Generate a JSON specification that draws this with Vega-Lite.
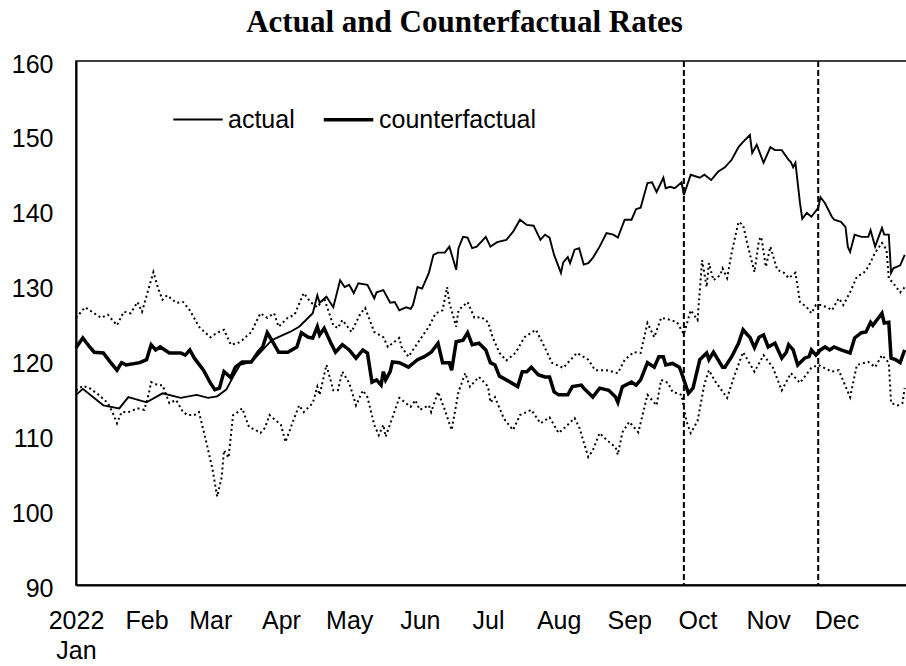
{
  "$schema": "https://vega.github.io/schema/vega-lite/v6.json",
  "width": 831,
  "height": 524,
  "autosize": {"type": "none"},
  "padding": {"left": 76, "top": 61, "right": 0, "bottom": 81},
  "background": "white",
  "title": {
    "text": "Actual and Counterfactual Rates",
    "font": "Liberation Serif",
    "fontSize": 31,
    "fontWeight": "bold",
    "color": "black",
    "anchor": "middle",
    "dx": -27,
    "offset": 13
  },
  "config": {
    "view": {"stroke": "black", "strokeWidth": 1.5},
    "axis": {
      "title": null,
      "grid": false,
      "ticks": false,
      "domainColor": "black",
      "domainWidth": 2,
      "labelFont": "Liberation Sans",
      "labelFontSize": 25,
      "labelColor": "black"
    }
  },
  "datasets": {
    "main": [
      {"series": "actual", "date": "2022-01-01", "value": 115.4},
      {"series": "actual", "date": "2022-01-04", "value": 116.2},
      {"series": "actual", "date": "2022-01-13", "value": 114.0},
      {"series": "actual", "date": "2022-01-20", "value": 113.6},
      {"series": "actual", "date": "2022-01-24", "value": 115.1},
      {"series": "actual", "date": "2022-02-01", "value": 114.4},
      {"series": "actual", "date": "2022-02-08", "value": 115.6},
      {"series": "actual", "date": "2022-02-16", "value": 115.0},
      {"series": "actual", "date": "2022-02-23", "value": 115.4},
      {"series": "actual", "date": "2022-02-28", "value": 115.0},
      {"series": "actual", "date": "2022-03-04", "value": 115.2},
      {"series": "actual", "date": "2022-03-08", "value": 116.1},
      {"series": "actual", "date": "2022-03-11", "value": 117.8},
      {"series": "actual", "date": "2022-03-14", "value": 119.4},
      {"series": "actual", "date": "2022-03-19", "value": 119.8},
      {"series": "actual", "date": "2022-03-24", "value": 121.4},
      {"series": "actual", "date": "2022-03-28", "value": 122.7},
      {"series": "actual", "date": "2022-04-02", "value": 123.4},
      {"series": "actual", "date": "2022-04-05", "value": 123.8},
      {"series": "actual", "date": "2022-04-09", "value": 124.5},
      {"series": "actual", "date": "2022-04-12", "value": 125.4},
      {"series": "actual", "date": "2022-04-15", "value": 126.3},
      {"series": "actual", "date": "2022-04-17", "value": 128.7},
      {"series": "actual", "date": "2022-04-18", "value": 127.7},
      {"series": "actual", "date": "2022-04-21", "value": 128.5},
      {"series": "actual", "date": "2022-04-24", "value": 127.1},
      {"series": "actual", "date": "2022-04-27", "value": 130.7},
      {"series": "actual", "date": "2022-04-29", "value": 129.8},
      {"series": "actual", "date": "2022-05-01", "value": 130.1},
      {"series": "actual", "date": "2022-05-03", "value": 129.0},
      {"series": "actual", "date": "2022-05-05", "value": 130.3},
      {"series": "actual", "date": "2022-05-09", "value": 130.1},
      {"series": "actual", "date": "2022-05-12", "value": 128.3},
      {"series": "actual", "date": "2022-05-13", "value": 129.1},
      {"series": "actual", "date": "2022-05-16", "value": 129.4},
      {"series": "actual", "date": "2022-05-19", "value": 127.7},
      {"series": "actual", "date": "2022-05-21", "value": 127.8},
      {"series": "actual", "date": "2022-05-23", "value": 126.7},
      {"series": "actual", "date": "2022-05-26", "value": 127.1},
      {"series": "actual", "date": "2022-05-28", "value": 126.9},
      {"series": "actual", "date": "2022-05-29", "value": 127.4},
      {"series": "actual", "date": "2022-05-31", "value": 129.8},
      {"series": "actual", "date": "2022-06-02", "value": 129.6},
      {"series": "actual", "date": "2022-06-05", "value": 131.7},
      {"series": "actual", "date": "2022-06-07", "value": 134.1},
      {"series": "actual", "date": "2022-06-09", "value": 134.4},
      {"series": "actual", "date": "2022-06-12", "value": 134.4},
      {"series": "actual", "date": "2022-06-14", "value": 135.2},
      {"series": "actual", "date": "2022-06-17", "value": 132.1},
      {"series": "actual", "date": "2022-06-18", "value": 135.0},
      {"series": "actual", "date": "2022-06-20", "value": 136.5},
      {"series": "actual", "date": "2022-06-22", "value": 136.4},
      {"series": "actual", "date": "2022-06-24", "value": 135.0},
      {"series": "actual", "date": "2022-06-26", "value": 135.2},
      {"series": "actual", "date": "2022-06-30", "value": 136.5},
      {"series": "actual", "date": "2022-07-02", "value": 135.2},
      {"series": "actual", "date": "2022-07-05", "value": 135.8},
      {"series": "actual", "date": "2022-07-09", "value": 136.1},
      {"series": "actual", "date": "2022-07-12", "value": 137.2},
      {"series": "actual", "date": "2022-07-15", "value": 138.8},
      {"series": "actual", "date": "2022-07-18", "value": 138.1},
      {"series": "actual", "date": "2022-07-21", "value": 138.0},
      {"series": "actual", "date": "2022-07-24", "value": 136.1},
      {"series": "actual", "date": "2022-07-26", "value": 136.8},
      {"series": "actual", "date": "2022-07-28", "value": 136.4},
      {"series": "actual", "date": "2022-07-30", "value": 134.1},
      {"series": "actual", "date": "2022-08-02", "value": 131.7},
      {"series": "actual", "date": "2022-08-03", "value": 133.1},
      {"series": "actual", "date": "2022-08-05", "value": 133.8},
      {"series": "actual", "date": "2022-08-06", "value": 133.0},
      {"series": "actual", "date": "2022-08-08", "value": 134.8},
      {"series": "actual", "date": "2022-08-10", "value": 135.0},
      {"series": "actual", "date": "2022-08-12", "value": 132.8},
      {"series": "actual", "date": "2022-08-14", "value": 133.0},
      {"series": "actual", "date": "2022-08-16", "value": 133.7},
      {"series": "actual", "date": "2022-08-19", "value": 135.2},
      {"series": "actual", "date": "2022-08-22", "value": 137.0},
      {"series": "actual", "date": "2022-08-25", "value": 136.8},
      {"series": "actual", "date": "2022-08-27", "value": 136.4},
      {"series": "actual", "date": "2022-08-30", "value": 138.8},
      {"series": "actual", "date": "2022-09-02", "value": 138.8},
      {"series": "actual", "date": "2022-09-04", "value": 140.2},
      {"series": "actual", "date": "2022-09-06", "value": 140.4},
      {"series": "actual", "date": "2022-09-09", "value": 143.7},
      {"series": "actual", "date": "2022-09-11", "value": 143.8},
      {"series": "actual", "date": "2022-09-13", "value": 142.5},
      {"series": "actual", "date": "2022-09-16", "value": 144.4},
      {"series": "actual", "date": "2022-09-17", "value": 143.0},
      {"series": "actual", "date": "2022-09-19", "value": 143.2},
      {"series": "actual", "date": "2022-09-21", "value": 143.0},
      {"series": "actual", "date": "2022-09-24", "value": 143.8},
      {"series": "actual", "date": "2022-09-25", "value": 142.1},
      {"series": "actual", "date": "2022-09-28", "value": 144.8},
      {"series": "actual", "date": "2022-10-02", "value": 144.4},
      {"series": "actual", "date": "2022-10-04", "value": 144.8},
      {"series": "actual", "date": "2022-10-07", "value": 144.1},
      {"series": "actual", "date": "2022-10-10", "value": 145.2},
      {"series": "actual", "date": "2022-10-13", "value": 145.8},
      {"series": "actual", "date": "2022-10-16", "value": 146.8},
      {"series": "actual", "date": "2022-10-19", "value": 148.5},
      {"series": "actual", "date": "2022-10-21", "value": 149.2},
      {"series": "actual", "date": "2022-10-24", "value": 150.1},
      {"series": "actual", "date": "2022-10-25", "value": 147.7},
      {"series": "actual", "date": "2022-10-27", "value": 148.8},
      {"series": "actual", "date": "2022-10-30", "value": 146.4},
      {"series": "actual", "date": "2022-11-02", "value": 148.5},
      {"series": "actual", "date": "2022-11-04", "value": 148.1},
      {"series": "actual", "date": "2022-11-07", "value": 148.1},
      {"series": "actual", "date": "2022-11-10", "value": 146.8},
      {"series": "actual", "date": "2022-11-11", "value": 146.5},
      {"series": "actual", "date": "2022-11-12", "value": 145.8},
      {"series": "actual", "date": "2022-11-13", "value": 146.4},
      {"series": "actual", "date": "2022-11-15", "value": 141.0},
      {"series": "actual", "date": "2022-11-16", "value": 138.9},
      {"series": "actual", "date": "2022-11-18", "value": 139.7},
      {"series": "actual", "date": "2022-11-20", "value": 139.2},
      {"series": "actual", "date": "2022-11-23", "value": 140.4},
      {"series": "actual", "date": "2022-11-24", "value": 141.8},
      {"series": "actual", "date": "2022-11-26", "value": 141.0},
      {"series": "actual", "date": "2022-11-29", "value": 139.2},
      {"series": "actual", "date": "2022-11-30", "value": 138.8},
      {"series": "actual", "date": "2022-12-03", "value": 138.5},
      {"series": "actual", "date": "2022-12-05", "value": 137.8},
      {"series": "actual", "date": "2022-12-06", "value": 135.2},
      {"series": "actual", "date": "2022-12-07", "value": 134.5},
      {"series": "actual", "date": "2022-12-09", "value": 136.8},
      {"series": "actual", "date": "2022-12-12", "value": 136.5},
      {"series": "actual", "date": "2022-12-15", "value": 136.5},
      {"series": "actual", "date": "2022-12-16", "value": 137.4},
      {"series": "actual", "date": "2022-12-18", "value": 135.2},
      {"series": "actual", "date": "2022-12-21", "value": 137.7},
      {"series": "actual", "date": "2022-12-22", "value": 136.8},
      {"series": "actual", "date": "2022-12-24", "value": 136.8},
      {"series": "actual", "date": "2022-12-25", "value": 131.7},
      {"series": "actual", "date": "2022-12-26", "value": 132.3},
      {"series": "actual", "date": "2022-12-29", "value": 132.7},
      {"series": "actual", "date": "2022-12-31", "value": 134.1},
      {"series": "counterfactual", "date": "2022-01-01", "value": 121.7},
      {"series": "counterfactual", "date": "2022-01-04", "value": 123.0},
      {"series": "counterfactual", "date": "2022-01-07", "value": 121.8},
      {"series": "counterfactual", "date": "2022-01-09", "value": 121.1},
      {"series": "counterfactual", "date": "2022-01-13", "value": 121.0},
      {"series": "counterfactual", "date": "2022-01-16", "value": 119.8},
      {"series": "counterfactual", "date": "2022-01-19", "value": 118.7},
      {"series": "counterfactual", "date": "2022-01-21", "value": 119.7},
      {"series": "counterfactual", "date": "2022-01-23", "value": 119.4},
      {"series": "counterfactual", "date": "2022-01-29", "value": 119.7},
      {"series": "counterfactual", "date": "2022-02-01", "value": 120.1},
      {"series": "counterfactual", "date": "2022-02-03", "value": 122.1},
      {"series": "counterfactual", "date": "2022-02-05", "value": 121.4},
      {"series": "counterfactual", "date": "2022-02-07", "value": 121.8},
      {"series": "counterfactual", "date": "2022-02-11", "value": 121.0},
      {"series": "counterfactual", "date": "2022-02-16", "value": 121.0},
      {"series": "counterfactual", "date": "2022-02-18", "value": 120.7},
      {"series": "counterfactual", "date": "2022-02-20", "value": 121.4},
      {"series": "counterfactual", "date": "2022-02-22", "value": 120.3},
      {"series": "counterfactual", "date": "2022-02-26", "value": 118.7},
      {"series": "counterfactual", "date": "2022-03-01", "value": 117.0},
      {"series": "counterfactual", "date": "2022-03-03", "value": 116.1},
      {"series": "counterfactual", "date": "2022-03-05", "value": 116.3},
      {"series": "counterfactual", "date": "2022-03-07", "value": 118.5},
      {"series": "counterfactual", "date": "2022-03-10", "value": 117.7},
      {"series": "counterfactual", "date": "2022-03-12", "value": 119.1},
      {"series": "counterfactual", "date": "2022-03-15", "value": 119.8},
      {"series": "counterfactual", "date": "2022-03-19", "value": 119.8},
      {"series": "counterfactual", "date": "2022-03-22", "value": 121.1},
      {"series": "counterfactual", "date": "2022-03-24", "value": 121.8},
      {"series": "counterfactual", "date": "2022-03-26", "value": 123.7},
      {"series": "counterfactual", "date": "2022-03-28", "value": 122.7},
      {"series": "counterfactual", "date": "2022-03-31", "value": 121.1},
      {"series": "counterfactual", "date": "2022-04-04", "value": 121.1},
      {"series": "counterfactual", "date": "2022-04-08", "value": 121.8},
      {"series": "counterfactual", "date": "2022-04-10", "value": 123.7},
      {"series": "counterfactual", "date": "2022-04-13", "value": 123.1},
      {"series": "counterfactual", "date": "2022-04-15", "value": 123.0},
      {"series": "counterfactual", "date": "2022-04-17", "value": 124.5},
      {"series": "counterfactual", "date": "2022-04-18", "value": 123.4},
      {"series": "counterfactual", "date": "2022-04-20", "value": 124.3},
      {"series": "counterfactual", "date": "2022-04-23", "value": 122.3},
      {"series": "counterfactual", "date": "2022-04-25", "value": 121.1},
      {"series": "counterfactual", "date": "2022-04-28", "value": 122.1},
      {"series": "counterfactual", "date": "2022-05-01", "value": 121.4},
      {"series": "counterfactual", "date": "2022-05-04", "value": 120.3},
      {"series": "counterfactual", "date": "2022-05-07", "value": 121.4},
      {"series": "counterfactual", "date": "2022-05-09", "value": 121.0},
      {"series": "counterfactual", "date": "2022-05-11", "value": 117.1},
      {"series": "counterfactual", "date": "2022-05-13", "value": 117.4},
      {"series": "counterfactual", "date": "2022-05-15", "value": 116.7},
      {"series": "counterfactual", "date": "2022-05-16", "value": 118.5},
      {"series": "counterfactual", "date": "2022-05-17", "value": 117.4},
      {"series": "counterfactual", "date": "2022-05-19", "value": 118.5},
      {"series": "counterfactual", "date": "2022-05-20", "value": 119.8},
      {"series": "counterfactual", "date": "2022-05-23", "value": 119.7},
      {"series": "counterfactual", "date": "2022-05-27", "value": 119.1},
      {"series": "counterfactual", "date": "2022-05-31", "value": 120.1},
      {"series": "counterfactual", "date": "2022-06-03", "value": 120.5},
      {"series": "counterfactual", "date": "2022-06-06", "value": 121.1},
      {"series": "counterfactual", "date": "2022-06-09", "value": 122.3},
      {"series": "counterfactual", "date": "2022-06-11", "value": 119.7},
      {"series": "counterfactual", "date": "2022-06-14", "value": 119.7},
      {"series": "counterfactual", "date": "2022-06-15", "value": 118.7},
      {"series": "counterfactual", "date": "2022-06-17", "value": 122.5},
      {"series": "counterfactual", "date": "2022-06-20", "value": 122.7},
      {"series": "counterfactual", "date": "2022-06-22", "value": 123.7},
      {"series": "counterfactual", "date": "2022-06-24", "value": 122.1},
      {"series": "counterfactual", "date": "2022-06-27", "value": 122.3},
      {"series": "counterfactual", "date": "2022-06-30", "value": 121.4},
      {"series": "counterfactual", "date": "2022-07-02", "value": 119.7},
      {"series": "counterfactual", "date": "2022-07-04", "value": 119.4},
      {"series": "counterfactual", "date": "2022-07-06", "value": 117.9},
      {"series": "counterfactual", "date": "2022-07-09", "value": 117.4},
      {"series": "counterfactual", "date": "2022-07-14", "value": 116.5},
      {"series": "counterfactual", "date": "2022-07-16", "value": 118.5},
      {"series": "counterfactual", "date": "2022-07-18", "value": 118.5},
      {"series": "counterfactual", "date": "2022-07-20", "value": 119.1},
      {"series": "counterfactual", "date": "2022-07-23", "value": 118.1},
      {"series": "counterfactual", "date": "2022-07-26", "value": 117.8},
      {"series": "counterfactual", "date": "2022-07-28", "value": 117.8},
      {"series": "counterfactual", "date": "2022-07-30", "value": 115.8},
      {"series": "counterfactual", "date": "2022-08-01", "value": 115.4},
      {"series": "counterfactual", "date": "2022-08-05", "value": 115.4},
      {"series": "counterfactual", "date": "2022-08-07", "value": 116.5},
      {"series": "counterfactual", "date": "2022-08-11", "value": 116.7},
      {"series": "counterfactual", "date": "2022-08-12", "value": 116.3},
      {"series": "counterfactual", "date": "2022-08-16", "value": 115.1},
      {"series": "counterfactual", "date": "2022-08-19", "value": 116.3},
      {"series": "counterfactual", "date": "2022-08-23", "value": 116.0},
      {"series": "counterfactual", "date": "2022-08-26", "value": 115.1},
      {"series": "counterfactual", "date": "2022-08-27", "value": 114.4},
      {"series": "counterfactual", "date": "2022-08-29", "value": 116.5},
      {"series": "counterfactual", "date": "2022-09-02", "value": 117.1},
      {"series": "counterfactual", "date": "2022-09-04", "value": 116.7},
      {"series": "counterfactual", "date": "2022-09-06", "value": 117.4},
      {"series": "counterfactual", "date": "2022-09-09", "value": 119.7},
      {"series": "counterfactual", "date": "2022-09-12", "value": 119.1},
      {"series": "counterfactual", "date": "2022-09-14", "value": 120.5},
      {"series": "counterfactual", "date": "2022-09-16", "value": 120.5},
      {"series": "counterfactual", "date": "2022-09-17", "value": 119.4},
      {"series": "counterfactual", "date": "2022-09-20", "value": 119.6},
      {"series": "counterfactual", "date": "2022-09-23", "value": 119.1},
      {"series": "counterfactual", "date": "2022-09-24", "value": 118.3},
      {"series": "counterfactual", "date": "2022-09-27", "value": 115.6},
      {"series": "counterfactual", "date": "2022-09-29", "value": 116.3},
      {"series": "counterfactual", "date": "2022-10-02", "value": 120.1},
      {"series": "counterfactual", "date": "2022-10-05", "value": 121.0},
      {"series": "counterfactual", "date": "2022-10-06", "value": 120.1},
      {"series": "counterfactual", "date": "2022-10-08", "value": 121.1},
      {"series": "counterfactual", "date": "2022-10-12", "value": 119.1},
      {"series": "counterfactual", "date": "2022-10-13", "value": 119.1},
      {"series": "counterfactual", "date": "2022-10-16", "value": 120.5},
      {"series": "counterfactual", "date": "2022-10-19", "value": 122.3},
      {"series": "counterfactual", "date": "2022-10-21", "value": 124.1},
      {"series": "counterfactual", "date": "2022-10-23", "value": 123.4},
      {"series": "counterfactual", "date": "2022-10-24", "value": 123.1},
      {"series": "counterfactual", "date": "2022-10-26", "value": 121.7},
      {"series": "counterfactual", "date": "2022-10-28", "value": 123.1},
      {"series": "counterfactual", "date": "2022-10-30", "value": 123.4},
      {"series": "counterfactual", "date": "2022-11-01", "value": 121.8},
      {"series": "counterfactual", "date": "2022-11-04", "value": 122.3},
      {"series": "counterfactual", "date": "2022-11-07", "value": 120.3},
      {"series": "counterfactual", "date": "2022-11-09", "value": 121.1},
      {"series": "counterfactual", "date": "2022-11-10", "value": 122.1},
      {"series": "counterfactual", "date": "2022-11-12", "value": 121.4},
      {"series": "counterfactual", "date": "2022-11-14", "value": 119.4},
      {"series": "counterfactual", "date": "2022-11-17", "value": 120.3},
      {"series": "counterfactual", "date": "2022-11-19", "value": 120.5},
      {"series": "counterfactual", "date": "2022-11-20", "value": 121.4},
      {"series": "counterfactual", "date": "2022-11-22", "value": 120.7},
      {"series": "counterfactual", "date": "2022-11-24", "value": 121.4},
      {"series": "counterfactual", "date": "2022-11-26", "value": 121.8},
      {"series": "counterfactual", "date": "2022-11-28", "value": 121.4},
      {"series": "counterfactual", "date": "2022-11-30", "value": 121.8},
      {"series": "counterfactual", "date": "2022-12-03", "value": 121.4},
      {"series": "counterfactual", "date": "2022-12-07", "value": 121.0},
      {"series": "counterfactual", "date": "2022-12-09", "value": 123.0},
      {"series": "counterfactual", "date": "2022-12-12", "value": 123.7},
      {"series": "counterfactual", "date": "2022-12-14", "value": 123.8},
      {"series": "counterfactual", "date": "2022-12-16", "value": 125.1},
      {"series": "counterfactual", "date": "2022-12-17", "value": 124.7},
      {"series": "counterfactual", "date": "2022-12-21", "value": 126.3},
      {"series": "counterfactual", "date": "2022-12-22", "value": 125.0},
      {"series": "counterfactual", "date": "2022-12-24", "value": 125.1},
      {"series": "counterfactual", "date": "2022-12-25", "value": 120.3},
      {"series": "counterfactual", "date": "2022-12-27", "value": 120.1},
      {"series": "counterfactual", "date": "2022-12-29", "value": 119.7},
      {"series": "counterfactual", "date": "2022-12-31", "value": 121.4}
    ],
    "bands": [
      {"series": "upper", "date": "2022-01-01", "value": 125.7},
      {"series": "upper", "date": "2022-01-05", "value": 127.1},
      {"series": "upper", "date": "2022-01-08", "value": 126.5},
      {"series": "upper", "date": "2022-01-12", "value": 125.7},
      {"series": "upper", "date": "2022-01-15", "value": 126.1},
      {"series": "upper", "date": "2022-01-19", "value": 124.7},
      {"series": "upper", "date": "2022-01-22", "value": 126.5},
      {"series": "upper", "date": "2022-01-25", "value": 126.3},
      {"series": "upper", "date": "2022-01-28", "value": 127.8},
      {"series": "upper", "date": "2022-01-30", "value": 126.5},
      {"series": "upper", "date": "2022-02-02", "value": 129.7},
      {"series": "upper", "date": "2022-02-04", "value": 131.8},
      {"series": "upper", "date": "2022-02-06", "value": 129.7},
      {"series": "upper", "date": "2022-02-08", "value": 128.1},
      {"series": "upper", "date": "2022-02-10", "value": 128.7},
      {"series": "upper", "date": "2022-02-14", "value": 127.7},
      {"series": "upper", "date": "2022-02-17", "value": 127.8},
      {"series": "upper", "date": "2022-02-20", "value": 126.7},
      {"series": "upper", "date": "2022-02-24", "value": 124.5},
      {"series": "upper", "date": "2022-03-01", "value": 123.1},
      {"series": "upper", "date": "2022-03-04", "value": 123.7},
      {"series": "upper", "date": "2022-03-07", "value": 124.1},
      {"series": "upper", "date": "2022-03-10", "value": 122.1},
      {"series": "upper", "date": "2022-03-13", "value": 122.3},
      {"series": "upper", "date": "2022-03-15", "value": 122.7},
      {"series": "upper", "date": "2022-03-19", "value": 123.8},
      {"series": "upper", "date": "2022-03-23", "value": 126.3},
      {"series": "upper", "date": "2022-03-26", "value": 125.7},
      {"series": "upper", "date": "2022-03-29", "value": 126.3},
      {"series": "upper", "date": "2022-03-31", "value": 124.5},
      {"series": "upper", "date": "2022-04-04", "value": 125.7},
      {"series": "upper", "date": "2022-04-07", "value": 126.1},
      {"series": "upper", "date": "2022-04-11", "value": 129.0},
      {"series": "upper", "date": "2022-04-14", "value": 127.8},
      {"series": "upper", "date": "2022-04-17", "value": 127.1},
      {"series": "upper", "date": "2022-04-20", "value": 128.3},
      {"series": "upper", "date": "2022-04-24", "value": 124.7},
      {"series": "upper", "date": "2022-04-26", "value": 124.3},
      {"series": "upper", "date": "2022-04-28", "value": 125.4},
      {"series": "upper", "date": "2022-05-02", "value": 123.8},
      {"series": "upper", "date": "2022-05-06", "value": 126.3},
      {"series": "upper", "date": "2022-05-08", "value": 127.0},
      {"series": "upper", "date": "2022-05-12", "value": 123.8},
      {"series": "upper", "date": "2022-05-16", "value": 123.1},
      {"series": "upper", "date": "2022-05-18", "value": 121.8},
      {"series": "upper", "date": "2022-05-23", "value": 123.0},
      {"series": "upper", "date": "2022-05-24", "value": 121.8},
      {"series": "upper", "date": "2022-05-27", "value": 120.5},
      {"series": "upper", "date": "2022-05-31", "value": 122.3},
      {"series": "upper", "date": "2022-06-05", "value": 124.5},
      {"series": "upper", "date": "2022-06-08", "value": 126.3},
      {"series": "upper", "date": "2022-06-11", "value": 126.7},
      {"series": "upper", "date": "2022-06-13", "value": 129.8},
      {"series": "upper", "date": "2022-06-14", "value": 127.7},
      {"series": "upper", "date": "2022-06-17", "value": 124.5},
      {"series": "upper", "date": "2022-06-18", "value": 126.7},
      {"series": "upper", "date": "2022-06-22", "value": 127.8},
      {"series": "upper", "date": "2022-06-25", "value": 125.7},
      {"series": "upper", "date": "2022-06-28", "value": 125.8},
      {"series": "upper", "date": "2022-07-01", "value": 125.1},
      {"series": "upper", "date": "2022-07-03", "value": 123.1},
      {"series": "upper", "date": "2022-07-06", "value": 121.0},
      {"series": "upper", "date": "2022-07-09", "value": 120.0},
      {"series": "upper", "date": "2022-07-13", "value": 121.0},
      {"series": "upper", "date": "2022-07-17", "value": 123.1},
      {"series": "upper", "date": "2022-07-22", "value": 124.1},
      {"series": "upper", "date": "2022-07-25", "value": 122.3},
      {"series": "upper", "date": "2022-07-29", "value": 119.7},
      {"series": "upper", "date": "2022-08-03", "value": 119.0},
      {"series": "upper", "date": "2022-08-09", "value": 121.0},
      {"series": "upper", "date": "2022-08-14", "value": 120.1},
      {"series": "upper", "date": "2022-08-17", "value": 118.7},
      {"series": "upper", "date": "2022-08-22", "value": 118.7},
      {"series": "upper", "date": "2022-08-27", "value": 118.3},
      {"series": "upper", "date": "2022-08-30", "value": 120.1},
      {"series": "upper", "date": "2022-09-03", "value": 121.1},
      {"series": "upper", "date": "2022-09-06", "value": 121.0},
      {"series": "upper", "date": "2022-09-09", "value": 125.0},
      {"series": "upper", "date": "2022-09-12", "value": 123.1},
      {"series": "upper", "date": "2022-09-15", "value": 125.7},
      {"series": "upper", "date": "2022-09-18", "value": 125.5},
      {"series": "upper", "date": "2022-09-22", "value": 125.1},
      {"series": "upper", "date": "2022-09-25", "value": 123.5},
      {"series": "upper", "date": "2022-09-28", "value": 126.7},
      {"series": "upper", "date": "2022-10-01", "value": 125.4},
      {"series": "upper", "date": "2022-10-03", "value": 133.4},
      {"series": "upper", "date": "2022-10-05", "value": 129.8},
      {"series": "upper", "date": "2022-10-06", "value": 133.0},
      {"series": "upper", "date": "2022-10-08", "value": 130.7},
      {"series": "upper", "date": "2022-10-11", "value": 131.4},
      {"series": "upper", "date": "2022-10-12", "value": 132.3},
      {"series": "upper", "date": "2022-10-14", "value": 131.0},
      {"series": "upper", "date": "2022-10-16", "value": 134.4},
      {"series": "upper", "date": "2022-10-19", "value": 138.5},
      {"series": "upper", "date": "2022-10-21", "value": 138.1},
      {"series": "upper", "date": "2022-10-23", "value": 135.4},
      {"series": "upper", "date": "2022-10-26", "value": 131.8},
      {"series": "upper", "date": "2022-10-28", "value": 136.1},
      {"series": "upper", "date": "2022-10-29", "value": 136.5},
      {"series": "upper", "date": "2022-10-31", "value": 132.5},
      {"series": "upper", "date": "2022-11-02", "value": 135.2},
      {"series": "upper", "date": "2022-11-05", "value": 132.1},
      {"series": "upper", "date": "2022-11-08", "value": 131.7},
      {"series": "upper", "date": "2022-11-10", "value": 131.0},
      {"series": "upper", "date": "2022-11-13", "value": 131.7},
      {"series": "upper", "date": "2022-11-15", "value": 127.8},
      {"series": "upper", "date": "2022-11-18", "value": 127.1},
      {"series": "upper", "date": "2022-11-20", "value": 126.3},
      {"series": "upper", "date": "2022-11-22", "value": 127.4},
      {"series": "upper", "date": "2022-11-24", "value": 127.4},
      {"series": "upper", "date": "2022-11-27", "value": 127.1},
      {"series": "upper", "date": "2022-11-29", "value": 126.7},
      {"series": "upper", "date": "2022-12-02", "value": 128.3},
      {"series": "upper", "date": "2022-12-04", "value": 127.4},
      {"series": "upper", "date": "2022-12-07", "value": 129.1},
      {"series": "upper", "date": "2022-12-10", "value": 131.2},
      {"series": "upper", "date": "2022-12-13", "value": 131.7},
      {"series": "upper", "date": "2022-12-15", "value": 132.5},
      {"series": "upper", "date": "2022-12-18", "value": 134.4},
      {"series": "upper", "date": "2022-12-21", "value": 135.7},
      {"series": "upper", "date": "2022-12-23", "value": 134.8},
      {"series": "upper", "date": "2022-12-24", "value": 131.0},
      {"series": "upper", "date": "2022-12-26", "value": 130.3},
      {"series": "upper", "date": "2022-12-29", "value": 129.1},
      {"series": "upper", "date": "2022-12-31", "value": 129.8},
      {"series": "lower", "date": "2022-01-01", "value": 116.0},
      {"series": "lower", "date": "2022-01-04", "value": 116.6},
      {"series": "lower", "date": "2022-01-07", "value": 116.3},
      {"series": "lower", "date": "2022-01-11", "value": 115.4},
      {"series": "lower", "date": "2022-01-15", "value": 114.3},
      {"series": "lower", "date": "2022-01-17", "value": 113.1},
      {"series": "lower", "date": "2022-01-19", "value": 111.6},
      {"series": "lower", "date": "2022-01-21", "value": 113.1},
      {"series": "lower", "date": "2022-01-24", "value": 113.1},
      {"series": "lower", "date": "2022-01-28", "value": 113.6},
      {"series": "lower", "date": "2022-01-31", "value": 113.4},
      {"series": "lower", "date": "2022-02-02", "value": 115.6},
      {"series": "lower", "date": "2022-02-03", "value": 117.1},
      {"series": "lower", "date": "2022-02-06", "value": 116.7},
      {"series": "lower", "date": "2022-02-08", "value": 116.7},
      {"series": "lower", "date": "2022-02-11", "value": 114.3},
      {"series": "lower", "date": "2022-02-14", "value": 114.7},
      {"series": "lower", "date": "2022-02-17", "value": 113.1},
      {"series": "lower", "date": "2022-02-19", "value": 112.7},
      {"series": "lower", "date": "2022-02-22", "value": 112.7},
      {"series": "lower", "date": "2022-02-24", "value": 113.1},
      {"series": "lower", "date": "2022-02-27", "value": 109.4},
      {"series": "lower", "date": "2022-03-02", "value": 105.4},
      {"series": "lower", "date": "2022-03-04", "value": 101.8},
      {"series": "lower", "date": "2022-03-06", "value": 104.4},
      {"series": "lower", "date": "2022-03-07", "value": 108.0},
      {"series": "lower", "date": "2022-03-09", "value": 107.0},
      {"series": "lower", "date": "2022-03-11", "value": 112.7},
      {"series": "lower", "date": "2022-03-13", "value": 113.1},
      {"series": "lower", "date": "2022-03-15", "value": 113.6},
      {"series": "lower", "date": "2022-03-18", "value": 111.1},
      {"series": "lower", "date": "2022-03-21", "value": 110.7},
      {"series": "lower", "date": "2022-03-23", "value": 110.3},
      {"series": "lower", "date": "2022-03-25", "value": 111.0},
      {"series": "lower", "date": "2022-03-27", "value": 112.7},
      {"series": "lower", "date": "2022-04-01", "value": 111.4},
      {"series": "lower", "date": "2022-04-03", "value": 109.1},
      {"series": "lower", "date": "2022-04-06", "value": 111.6},
      {"series": "lower", "date": "2022-04-09", "value": 114.0},
      {"series": "lower", "date": "2022-04-11", "value": 113.1},
      {"series": "lower", "date": "2022-04-15", "value": 114.3},
      {"series": "lower", "date": "2022-04-17", "value": 116.5},
      {"series": "lower", "date": "2022-04-18", "value": 115.4},
      {"series": "lower", "date": "2022-04-21", "value": 119.4},
      {"series": "lower", "date": "2022-04-24", "value": 116.0},
      {"series": "lower", "date": "2022-04-26", "value": 116.0},
      {"series": "lower", "date": "2022-04-28", "value": 118.5},
      {"series": "lower", "date": "2022-05-01", "value": 117.0},
      {"series": "lower", "date": "2022-05-04", "value": 114.0},
      {"series": "lower", "date": "2022-05-07", "value": 116.0},
      {"series": "lower", "date": "2022-05-09", "value": 115.1},
      {"series": "lower", "date": "2022-05-12", "value": 111.4},
      {"series": "lower", "date": "2022-05-14", "value": 110.0},
      {"series": "lower", "date": "2022-05-16", "value": 111.4},
      {"series": "lower", "date": "2022-05-17", "value": 109.8},
      {"series": "lower", "date": "2022-05-20", "value": 112.4},
      {"series": "lower", "date": "2022-05-23", "value": 115.0},
      {"series": "lower", "date": "2022-05-28", "value": 113.8},
      {"series": "lower", "date": "2022-05-30", "value": 114.7},
      {"series": "lower", "date": "2022-06-01", "value": 113.4},
      {"series": "lower", "date": "2022-06-05", "value": 114.0},
      {"series": "lower", "date": "2022-06-06", "value": 113.1},
      {"series": "lower", "date": "2022-06-09", "value": 115.8},
      {"series": "lower", "date": "2022-06-12", "value": 113.4},
      {"series": "lower", "date": "2022-06-15", "value": 110.7},
      {"series": "lower", "date": "2022-06-18", "value": 115.8},
      {"series": "lower", "date": "2022-06-21", "value": 118.3},
      {"series": "lower", "date": "2022-06-23", "value": 116.5},
      {"series": "lower", "date": "2022-06-27", "value": 117.8},
      {"series": "lower", "date": "2022-07-01", "value": 116.5},
      {"series": "lower", "date": "2022-07-02", "value": 114.4},
      {"series": "lower", "date": "2022-07-04", "value": 115.1},
      {"series": "lower", "date": "2022-07-08", "value": 112.2},
      {"series": "lower", "date": "2022-07-12", "value": 110.7},
      {"series": "lower", "date": "2022-07-15", "value": 112.7},
      {"series": "lower", "date": "2022-07-20", "value": 113.4},
      {"series": "lower", "date": "2022-07-24", "value": 111.6},
      {"series": "lower", "date": "2022-07-28", "value": 112.4},
      {"series": "lower", "date": "2022-08-01", "value": 110.3},
      {"series": "lower", "date": "2022-08-05", "value": 111.4},
      {"series": "lower", "date": "2022-08-08", "value": 112.3},
      {"series": "lower", "date": "2022-08-10", "value": 111.1},
      {"series": "lower", "date": "2022-08-14", "value": 107.1},
      {"series": "lower", "date": "2022-08-16", "value": 108.0},
      {"series": "lower", "date": "2022-08-19", "value": 110.3},
      {"series": "lower", "date": "2022-08-22", "value": 109.4},
      {"series": "lower", "date": "2022-08-26", "value": 108.4},
      {"series": "lower", "date": "2022-08-27", "value": 107.4},
      {"series": "lower", "date": "2022-08-29", "value": 110.4},
      {"series": "lower", "date": "2022-09-01", "value": 111.8},
      {"series": "lower", "date": "2022-09-05", "value": 110.4},
      {"series": "lower", "date": "2022-09-09", "value": 115.4},
      {"series": "lower", "date": "2022-09-13", "value": 114.0},
      {"series": "lower", "date": "2022-09-15", "value": 117.4},
      {"series": "lower", "date": "2022-09-18", "value": 117.0},
      {"series": "lower", "date": "2022-09-20", "value": 115.8},
      {"series": "lower", "date": "2022-09-24", "value": 115.4},
      {"series": "lower", "date": "2022-09-26", "value": 112.0},
      {"series": "lower", "date": "2022-09-28", "value": 110.3},
      {"series": "lower", "date": "2022-10-01", "value": 111.9},
      {"series": "lower", "date": "2022-10-04", "value": 116.8},
      {"series": "lower", "date": "2022-10-06", "value": 118.7},
      {"series": "lower", "date": "2022-10-09", "value": 117.1},
      {"series": "lower", "date": "2022-10-14", "value": 115.0},
      {"series": "lower", "date": "2022-10-17", "value": 117.8},
      {"series": "lower", "date": "2022-10-21", "value": 121.1},
      {"series": "lower", "date": "2022-10-26", "value": 118.5},
      {"series": "lower", "date": "2022-10-30", "value": 120.7},
      {"series": "lower", "date": "2022-11-03", "value": 119.1},
      {"series": "lower", "date": "2022-11-07", "value": 116.0},
      {"series": "lower", "date": "2022-11-11", "value": 118.3},
      {"series": "lower", "date": "2022-11-15", "value": 117.0},
      {"series": "lower", "date": "2022-11-20", "value": 119.0},
      {"series": "lower", "date": "2022-11-23", "value": 119.4},
      {"series": "lower", "date": "2022-11-29", "value": 118.5},
      {"series": "lower", "date": "2022-12-02", "value": 118.7},
      {"series": "lower", "date": "2022-12-07", "value": 115.1},
      {"series": "lower", "date": "2022-12-10", "value": 119.4},
      {"series": "lower", "date": "2022-12-15", "value": 119.8},
      {"series": "lower", "date": "2022-12-18", "value": 119.1},
      {"series": "lower", "date": "2022-12-21", "value": 120.7},
      {"series": "lower", "date": "2022-12-24", "value": 119.7},
      {"series": "lower", "date": "2022-12-25", "value": 114.3},
      {"series": "lower", "date": "2022-12-28", "value": 114.0},
      {"series": "lower", "date": "2022-12-30", "value": 114.3},
      {"series": "lower", "date": "2022-12-31", "value": 116.3}
    ],
    "window": [
      {"edge": "start", "date": "2022-09-25"},
      {"edge": "end", "date": "2022-11-23"}
    ]
  },
  "layer": [
    {
      "data": {"name": "bands"},
      "mark": {"type": "line", "color": "black", "strokeWidth": 2, "strokeDash": [2, 3], "strokeCap": "butt"},
      "encoding": {
        "x": {
          "field": "date",
          "type": "temporal",
          "scale": {
            "type": "utc",
            "domain": [
              {"year": 2022, "month": 1, "date": 1, "utc": true},
              {"year": 2023, "month": 1, "date": 1, "utc": true}
            ]
          },
          "axis": {
            "values": [
              {"year": 2022, "month": 1, "date": 1, "utc": true},
              {"year": 2022, "month": 2, "date": 1, "utc": true},
              {"year": 2022, "month": 3, "date": 1, "utc": true},
              {"year": 2022, "month": 4, "date": 1, "utc": true},
              {"year": 2022, "month": 5, "date": 1, "utc": true},
              {"year": 2022, "month": 6, "date": 1, "utc": true},
              {"year": 2022, "month": 7, "date": 1, "utc": true},
              {"year": 2022, "month": 8, "date": 1, "utc": true},
              {"year": 2022, "month": 9, "date": 1, "utc": true},
              {"year": 2022, "month": 10, "date": 1, "utc": true},
              {"year": 2022, "month": 11, "date": 1, "utc": true},
              {"year": 2022, "month": 12, "date": 1, "utc": true}
            ],
            "labelExpr": "utcFormat(datum.value, '%b') == 'Jan' ? ['2022', 'Jan'] : utcFormat(datum.value, '%b')",
            "labelAlign": "center",
            "labelBaseline": "top",
            "labelLineHeight": 30,
            "labelPadding": 23,
            "labelFlush": false,
            "labelOverlap": false
          }
        },
        "y": {
          "field": "value",
          "type": "quantitative",
          "scale": {"domain": [90, 160], "nice": false, "zero": false},
          "axis": {
            "values": [90, 100, 110, 120, 130, 140, 150, 160],
            "labelPadding": 23,
            "labelOffset": 3
          }
        },
        "detail": {"field": "series", "type": "nominal"}
      }
    },
    {
      "data": {"name": "main"},
      "mark": {"type": "line", "color": "black"},
      "encoding": {
        "x": {"field": "date", "type": "temporal"},
        "y": {"field": "value", "type": "quantitative"},
        "strokeWidth": {
          "field": "series",
          "type": "nominal",
          "scale": {"type": "ordinal", "domain": ["actual", "counterfactual"], "range": [1.9, 3.5]},
          "legend": {
            "title": null,
            "orient": "none",
            "legendX": 96,
            "legendY": 32,
            "direction": "horizontal",
            "symbolType": "stroke",
            "symbolSize": 2450,
            "symbolStrokeColor": "black",
            "labelFont": "Liberation Sans",
            "labelFontSize": 25,
            "labelColor": "black",
            "labelOffset": 4,
            "columnPadding": 21,
            "padding": 0
          }
        }
      }
    },
    {
      "data": {"name": "window"},
      "mark": {"type": "rule", "color": "black", "strokeWidth": 2, "strokeDash": [6, 3]},
      "encoding": {
        "x": {"field": "date", "type": "temporal"}
      }
    }
  ]
}
